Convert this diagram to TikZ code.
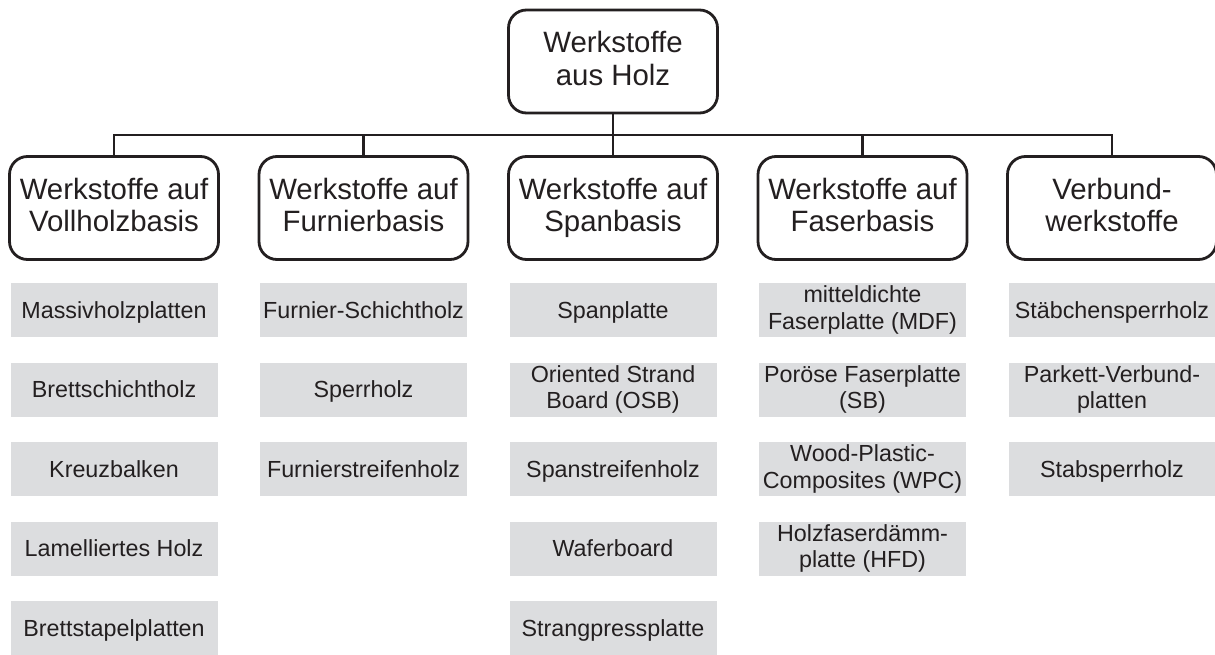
\documentclass[tikz,border=0pt]{standalone}
\usepackage{fontspec}
\setmainfont{Liberation Sans}
\definecolor{ink}{HTML}{231F20}
\definecolor{panel}{HTML}{DCDDDF}
% fixed line height/depth so every label centres on its capitals
\newcommand\capstrut{\vrule width 0pt height 0.926em depth 0.21em\relax}
\begin{document}
\begin{tikzpicture}[x=1pt,y=-1pt,
  label strut/.style={execute at begin node=\capstrut, execute at end node=\capstrut},
  head/.style={draw=ink, line width=2.8pt, rounded corners=18pt, fill=white,
    minimum width=209pt, minimum height=103pt, inner sep=0pt, align=center,
    text=ink, font=\fontsize{29.4}{32.5}\selectfont, label strut},
  item/.style={fill=panel, minimum width=207pt, minimum height=54pt,
    inner sep=0pt, align=center, text=ink, font=\fontsize{23.3}{26.5}\selectfont, label strut},
  link/.style={draw=ink, line width=2.8pt}]
\useasboundingbox (0,0) rectangle (1215,655);

% root and category boxes
\node[head] (root) at (613,61.5) {Werkstoffe\\aus Holz};
\node[head] (c1) at (114,208) {Werkstoffe auf\\Vollholzbasis};
\node[head] (c2) at (363.5,208) {Werkstoffe auf\\Furnierbasis};
\node[head] (c3) at (613,208) {Werkstoffe auf\\Spanbasis};
\node[head] (c4) at (862.5,208) {Werkstoffe auf\\Faserbasis};
\node[head] (c5) at (1112,208) {Verbund-\\werkstoffe};

% tree connectors through a common bus line
\coordinate (bus) at (613,135);
\foreach \c in {c1,c2,c3,c4,c5}
  \draw[link] (root.south) -- (bus) -| (\c.north);

% material lists
\foreach \x/\col/\list in {
  114/a/{Massivholzplatten,Brettschichtholz,Kreuzbalken,Lamelliertes Holz,Brettstapelplatten},
  363.5/b/{Furnier-Schichtholz,Sperrholz,Furnierstreifenholz},
  613/c/{Spanplatte,Oriented Strand\\Board (OSB),Spanstreifenholz,Waferboard,Strangpressplatte},
  862.5/d/{mitteldichte\\Faserplatte (MDF),Poröse Faserplatte\\(SB),Wood-Plastic-\\Composites (WPC),Holzfaserdämm-\\platte (HFD)},
  1112/e/{Stäbchensperrholz,Parkett-Verbund-\\platten,Stabsperrholz}}
{
  \foreach \t [count=\i from 0] in \list
    \node[item] (\col\i) at (\x,310+79.5*\i) {\t};
}
\end{tikzpicture}
\end{document}
